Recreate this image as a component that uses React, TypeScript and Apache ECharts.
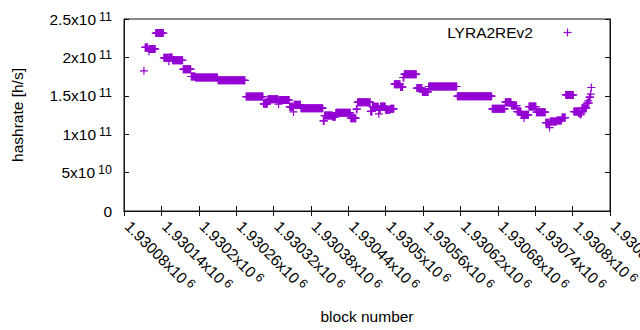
import React, { useEffect, useRef } from 'react';
import * as echarts from 'echarts';

// Runs of consecutive blocks that share one hashrate estimate
const runStart = [
  1930112, 1930114, 1930120, 1930121, 1930131, 1930144, 1930152, 1930153, 1930158, 1930175,
  1930188, 1930195, 1930231, 1930276, 1930304, 1930311, 1930328, 1930329, 1930346, 1930352,
  1930353, 1930364, 1930400, 1930402, 1930415, 1930420, 1930444, 1930453, 1930455, 1930476,
  1930479, 1930489, 1930490, 1930492, 1930500, 1930508, 1930514, 1930524, 1930528, 1930530,
  1930550, 1930559, 1930569, 1930615, 1930671, 1930692, 1930702, 1930711, 1930718, 1930722,
  1930723, 1930730, 1930742, 1930757, 1930763, 1930764, 1930775, 1930783, 1930789, 1930802,
  1930810, 1930813, 1930814, 1930815, 1930823, 1930825, 1930826, 1930827, 1930829, 1930830,
];
const runEnd = [
  1930112, 1930118, 1930120, 1930130, 1930143, 1930151, 1930152, 1930157, 1930174, 1930187,
  1930194, 1930230, 1930274, 1930303, 1930310, 1930327, 1930328, 1930345, 1930351, 1930352,
  1930363, 1930399, 1930401, 1930414, 1930419, 1930443, 1930452, 1930454, 1930475, 1930478,
  1930488, 1930489, 1930491, 1930499, 1930507, 1930513, 1930523, 1930527, 1930529, 1930549,
  1930558, 1930568, 1930614, 1930670, 1930691, 1930701, 1930710, 1930717, 1930721, 1930722,
  1930729, 1930741, 1930756, 1930762, 1930763, 1930774, 1930782, 1930788, 1930801, 1930809,
  1930812, 1930813, 1930814, 1930822, 1930824, 1930825, 1930826, 1930828, 1930829, 1930830,
];
const runHashrate = [
  1.825e11, 2.13e11, 2.08e11, 2.11e11, 2.317e11, 1.995e11, 1.95e11, 2.0e11, 1.962e11, 1.847e11,
  1.751e11, 1.738e11, 1.701e11, 1.49e11, 1.395e11, 1.454e11, 1.391e11, 1.445e11, 1.356e11, 1.29e11,
  1.382e11, 1.339e11, 1.173e11, 1.243e11, 1.226e11, 1.278e11, 1.209e11, 1.326e11, 1.417e11, 1.297e11,
  1.356e11, 1.265e11, 1.317e11, 1.362e11, 1.317e11, 1.33e11, 1.652e11, 1.613e11, 1.738e11, 1.782e11,
  1.6e11, 1.551e11, 1.621e11, 1.495e11, 1.33e11, 1.417e11, 1.373e11, 1.295e11, 1.252e11, 1.21e11,
  1.252e11, 1.36e11, 1.287e11, 1.15e11, 1.086e11, 1.164e11, 1.177e11, 1.216e11, 1.512e11, 1.295e11,
  1.274e11, 1.252e11, 1.274e11, 1.339e11, 1.404e11, 1.434e11, 1.404e11, 1.482e11, 1.521e11, 1.608e11,
];

const seriesName = 'LYRA2REv2';

const xMin = 1930080;
const xMax = 1930860;
const xStep = 60;
const xTickLabels = [
  '1.93008x10^6', '1.93014x10^6', '1.9302x10^6', '1.93026x10^6', '1.93032x10^6',
  '1.93038x10^6', '1.93044x10^6', '1.9305x10^6', '1.93056x10^6', '1.93062x10^6',
  '1.93068x10^6', '1.93074x10^6', '1.9308x10^6', '1.93086x10^6',
];

const yMin = 0;
const yMax = 2.5e11;
const yStep = 5e10;
const yTickLabels = ['0', '5x10^10', '1x10^11', '1.5x10^11', '2x10^11', '2.5x10^11'];

const FONT = '"Liberation Sans", Arial, Helvetica, sans-serif';
const COLOR = '#9400d3';
const INK = '#111111';
const PLUS = 'path://M3.4,0H4.6V3.4H8V4.6H4.6V8H3.4V4.6H0V3.4H3.4Z';

function buildPoints(): [number, number][] {
  const pts: [number, number][] = [];
  for (let i = 0; i < runStart.length; i++) {
    for (let b = runStart[i]; b <= runEnd[i]; b++) {
      pts.push([b, runHashrate[i]]);
    }
  }
  return pts;
}

function makeFormatter(labels: string[], min: number, step: number) {
  return (v: number) => {
    const i = Math.round((v - min) / step);
    const s = labels[i] ?? '';
    const parts = s.split('^');
    return parts.length > 1 ? `{m|${parts[0]}}{s|${parts[1]}}` : `{m|${parts[0]}}`;
  };
}

const makeRich = (lead: number) => ({
  m: { fontSize: 15.5, fontFamily: FONT, color: '#000', lineHeight: 18, padding: [0, 0, 0, lead] },
  s: { fontSize: 12.5, fontFamily: FONT, color: '#000', lineHeight: 13, verticalAlign: 'top', padding: [0, 0, 0, 3] },
});

const makeLine = () => ({ show: true, lineStyle: { color: INK, width: 1 } });
const makeTick = () => ({ show: true, inside: true, length: 5, lineStyle: { color: INK, width: 1 } });

export default function App() {
  const ref = useRef<HTMLDivElement>(null);

  useEffect(() => {
    if (!ref.current) return;
    const chart = echarts.init(ref.current, undefined, { renderer: 'svg' });
    chart.setOption({
      animation: false,
      grid: {
        left: 124, right: 30, top: 19, bottom: 119,
        outerBoundsMode: 'none',
        show: true, borderColor: INK, borderWidth: 1,
      },
      xAxis: [
        {
          type: 'value', min: xMin, max: xMax, interval: xStep,
          axisLine: makeLine(), axisTick: makeTick(), splitLine: { show: false },
          axisLabel: {
            rotate: -45, margin: 9, color: '#000', fontSize: 15.5, fontFamily: FONT,
            formatter: makeFormatter(xTickLabels, xMin, xStep), rich: makeRich(5),
            showMinLabel: true, showMaxLabel: true,
          },
          name: 'block number', nameLocation: 'middle', nameGap: 97,
          nameTextStyle: { fontSize: 15.5, color: '#000', fontFamily: FONT },
        },
        {
          type: 'value', min: xMin, max: xMax, interval: xStep,
          axisLine: makeLine(), axisTick: makeTick(), splitLine: { show: false }, axisLabel: { show: false },
        },
      ],
      yAxis: [
        {
          type: 'value', min: yMin, max: yMax, interval: yStep,
          axisLine: makeLine(), axisTick: makeTick(), splitLine: { show: false },
          axisLabel: {
            margin: 12, color: '#000', fontSize: 15.5, fontFamily: FONT,
            formatter: makeFormatter(yTickLabels, yMin, yStep), rich: makeRich(0),
          },
          name: 'hashrate [h/s]', nameLocation: 'middle', nameGap: 99,
          nameTextStyle: { fontSize: 15.5, color: '#000', fontFamily: FONT },
        },
        {
          type: 'value', min: yMin, max: yMax, interval: yStep,
          axisLine: makeLine(), axisTick: makeTick(), splitLine: { show: false }, axisLabel: { show: false },
        },
      ],
      series: [
        {
          name: seriesName,
          type: 'scatter',
          xAxisIndex: 0,
          yAxisIndex: 0,
          symbol: PLUS,
          symbolSize: 8,
          itemStyle: { color: COLOR, opacity: 1 },
          data: buildPoints(),
        },
      ],
      graphic: [
        {
          type: 'text', x: 533, y: 32.5,
          style: { text: seriesName, fontSize: 15.5, fontFamily: FONT, fill: '#000', align: 'right', verticalAlign: 'middle' },
        },
        { type: 'line', shape: { x1: 563.5, y1: 32.5, x2: 571.5, y2: 32.5 }, style: { stroke: COLOR, lineWidth: 1.2 } },
        { type: 'line', shape: { x1: 567.5, y1: 28.5, x2: 567.5, y2: 36.5 }, style: { stroke: COLOR, lineWidth: 1.2 } },
      ],
    });
    return () => chart.dispose();
  }, []);

  return (
    <div
      ref={ref}
      style={{ position: 'fixed', left: 0, top: 0, width: 640, height: 330, background: '#fff' }}
    />
  );
}
